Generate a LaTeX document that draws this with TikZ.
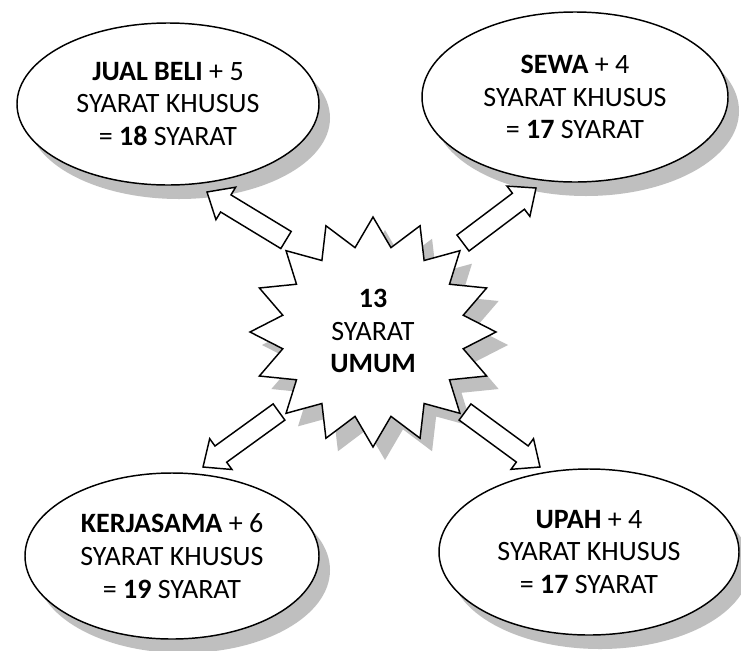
\documentclass[tikz,border=0pt]{standalone}
\usepackage{fontspec}
\setmainfont{Carlito}
\usetikzlibrary{shapes.geometric,shadows,calc}
\definecolor{shadowgray}{RGB}{191,191,191}
\tikzset{
  bubble/.style={ellipse, draw=black, line width=1.1pt, fill=white, align=center,
    inner sep=0pt, font=\fontsize{21}{24.5}\selectfont,
    drop shadow={shadow xshift=8.25pt, shadow yshift=-10.5pt, fill=shadowgray, opacity=1}},
  burst/.style={draw=black, line width=1.1pt, fill=white, line join=miter},
  burstshadow/.style={fill=shadowgray, draw=none},
  blockarrow/.style={draw=black, line width=1.1pt, fill=white, line join=miter},
  coretext/.style={align=center, inner sep=0pt, font=\fontsize{21}{24.5}\selectfont}
}
% hollow block arrow from #1 (tail) to #2 (tip)
\newcommand\hollowarrow[2]{%
  \coordinate (hb) at ($(#2)!16.5pt!(#1)$);
  \draw[blockarrow] ($(#1)!7.5pt!90:(#2)$) -- ($(hb)!7.5pt!90:(#2)$)
    -- ($(hb)!14.25pt!90:(#2)$) -- (#2) -- ($(hb)!14.25pt!-90:(#2)$)
    -- ($(hb)!7.5pt!-90:(#2)$) -- ($(#1)!7.5pt!-90:(#2)$) -- cycle;
}
\begin{document}
\begin{tikzpicture}[x=0.75pt, y=-0.75pt]
  \fill[white] (0,0) rectangle (741,650);
  \useasboundingbox (0,0) rectangle (741,650);

  % sixteen-point burst in the middle
  \coordinate (c) at (373,332);
  \foreach \k in {0,...,31} {
    \pgfmathsetmacro\px{373+(mod(\k,2)==0 ? 123 : 92)*cos(90+\k*11.25)}
    \pgfmathsetmacro\py{332+(mod(\k,2)==0 ? 115 : 86)*sin(90+\k*11.25)}
    \coordinate (s\k) at (\px,\py);
  }
  \fill[burstshadow] ([shift={(12,13)}]s0)
    \foreach \k in {1,...,31} { -- ([shift={(12,13)}]s\k) } -- cycle;
  \draw[burst] (s0) \foreach \k in {1,...,31} { -- (s\k) } -- cycle;
  \node[coretext] (core) at (373,331) {\textbf{13}\\SYARAT\\\textbf{UMUM}};

  % the four contracts
  \node[bubble, minimum width=226.5pt, minimum height=121.5pt] (jual) at (168,104)
    {\textbf{JUAL BELI} + 5\\SYARAT KHUSUS\\= \textbf{18} SYARAT};
  \node[bubble, minimum width=229.5pt, minimum height=127.5pt] (sewa) at (575,97)
    {\textbf{SEWA} + 4\\SYARAT KHUSUS\\= \textbf{17} SYARAT};
  \node[bubble, minimum width=220.5pt, minimum height=124.5pt] (kerja) at (172,556)
    {\textbf{KERJASAMA} + 6\\SYARAT KHUSUS\\= \textbf{19} SYARAT};
  \node[bubble, minimum width=225pt, minimum height=124.5pt] (upah) at (589,552)
    {\textbf{UPAH} + 4\\SYARAT KHUSUS\\= \textbf{17} SYARAT};

  % arrow ends
  \coordinate (jualTail) at (286,240);  \coordinate (jualTip) at (207,192);
  \coordinate (sewaTail) at (463,243);  \coordinate (sewaTip) at (536,188);
  \coordinate (kerjaTail) at (279,412); \coordinate (kerjaTip) at (203,467);
  \coordinate (upahTail) at (465,412);  \coordinate (upahTip) at (540,467);

  \hollowarrow{jualTail}{jualTip}
  \hollowarrow{sewaTail}{sewaTip}
  \hollowarrow{kerjaTail}{kerjaTip}
  \hollowarrow{upahTail}{upahTip}
\end{tikzpicture}
\end{document}
